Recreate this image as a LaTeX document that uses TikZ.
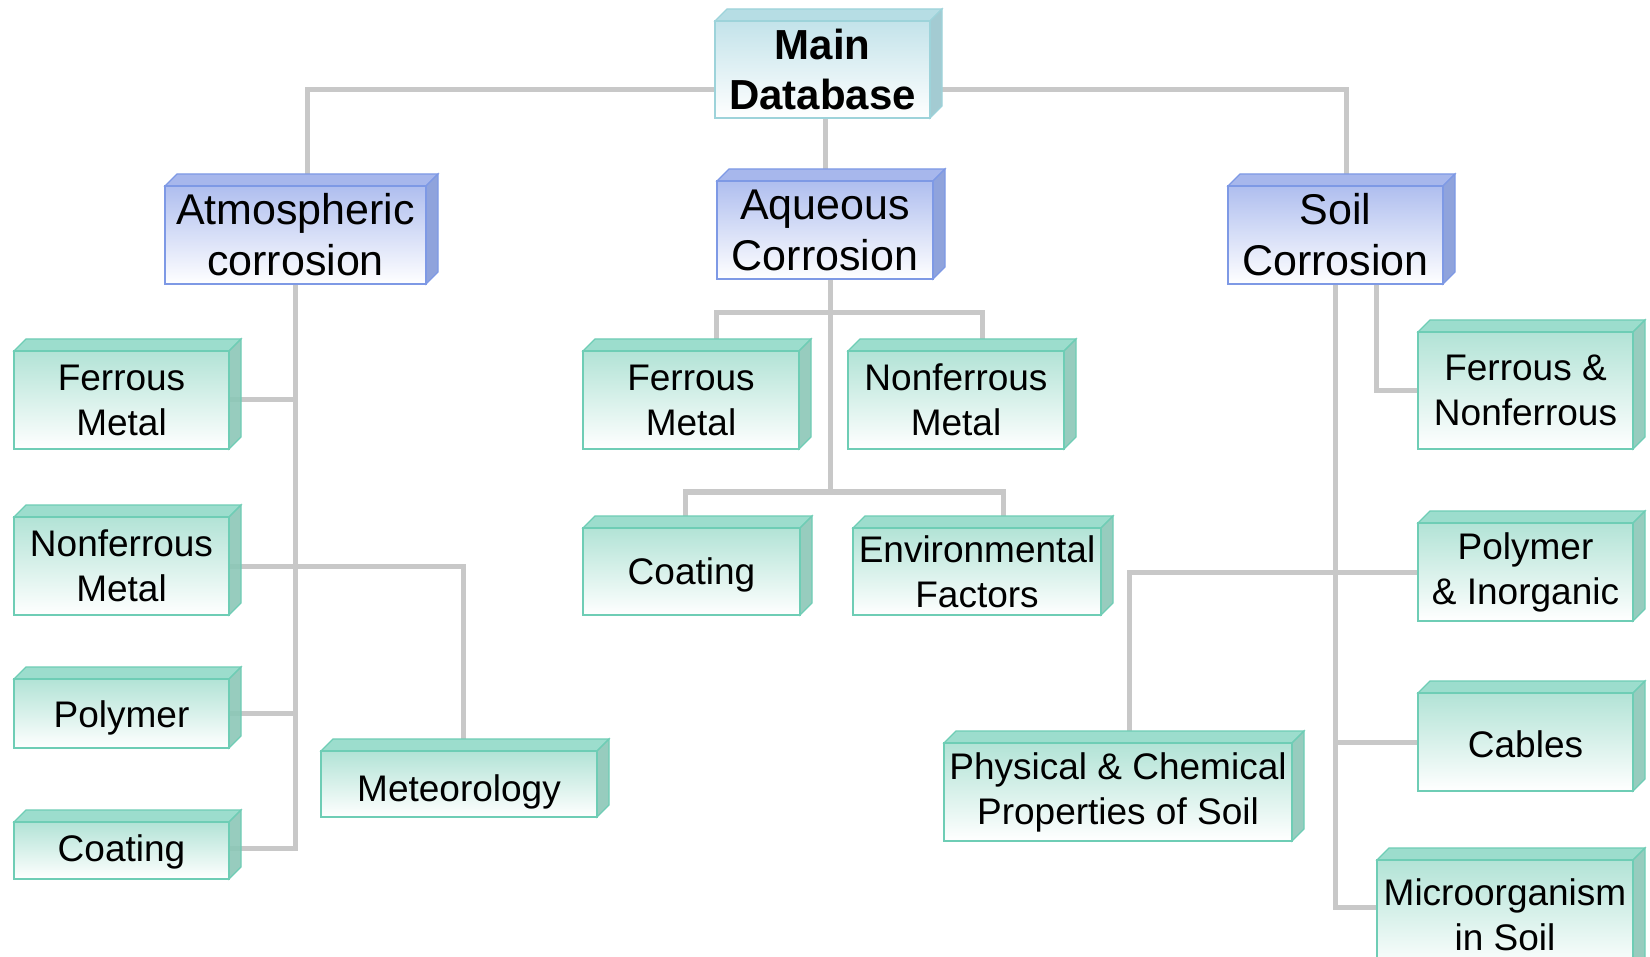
\documentclass[tikz,border=0pt]{standalone}
\usepackage{fontspec}
\setmainfont{Liberation Sans}
\pgfdeclarelayer{background}
\pgfsetlayers{background,main}

% colour schemes of the three kinds of box
\definecolor{cyanFront}{HTML}{C3E3EA}
\definecolor{cyanEdge}{HTML}{9DD3DA}
\definecolor{cyanTop}{HTML}{B6DDE4}
\definecolor{cyanSide}{HTML}{A3CBD2}
\definecolor{blueFront}{HTML}{AFBEEF}
\definecolor{blueEdge}{HTML}{7E99E5}
\definecolor{blueTop}{HTML}{A7B7EC}
\definecolor{blueSide}{HTML}{8FA3DC}
\definecolor{greenFront}{HTML}{B2E3D6}
\definecolor{greenEdge}{HTML}{6ECDB5}
\definecolor{greenTop}{HTML}{9CDDCD}
\definecolor{greenSide}{HTML}{8CC7B7}
\definecolor{connGray}{HTML}{C8C8C8}

\tikzset{
  cuboid/.style={inner sep=0pt, align=center, line width=1.5pt},
  cyan box/.style={cuboid, draw=cyanEdge, top color=cyanFront, bottom color=white,
    font=\fontsize{42}{50}\selectfont\bfseries},
  cyan top/.style={fill=cyanTop, draw=cyanEdge, line width=1.2pt},
  cyan side/.style={fill=cyanSide, draw=cyanEdge, line width=1.2pt},
  blue box/.style={cuboid, draw=blueEdge, top color=blueFront, bottom color=white,
    font=\fontsize{43}{51}\selectfont},
  blue top/.style={fill=blueTop, draw=blueEdge, line width=1.2pt},
  blue side/.style={fill=blueSide, draw=blueEdge, line width=1.2pt},
  green box/.style={cuboid, draw=greenEdge, top color=greenFront, bottom color=white,
    font=\fontsize{37}{45}\selectfont},
  green top/.style={fill=greenTop, draw=greenEdge, line width=1.2pt},
  green side/.style={fill=greenSide, draw=greenEdge, line width=1.2pt, fill opacity=0.9},
  conn/.style={draw=connGray, line width=5pt},
}

% #1 name, #2 scheme, #3 left, #4 top, #5 right, #6 bottom, #7 text
\newcommand\cuboidbox[7]{%
  \filldraw[#2 top] (#3,#4) -- ++(12,-12) -- (#5+12,#4-12) -- (#5,#4) -- cycle;
  \filldraw[#2 side] (#5,#4) -- ++(12,-12) -- (#5+12,#6-12) -- (#5,#6) -- cycle;
  \node[#2 box, minimum width={#5-#3}, minimum height={#6-#4}]
    (#1) at ({(#3+#5)/2},{(#4+#6)/2}) {#7};
}
% one-line label whose baseline sits #1 below the box centre
\newcommand\lowline[2]{\raisebox{-#1}[0pt][0pt]{#2}}

\begin{document}
\begin{tikzpicture}[x=1pt, y=-1pt]
\useasboundingbox (0,0) rectangle (1650,957);
\clip (0,0) rectangle (1650,957);

% root
\cuboidbox{main}{cyan}{715}{21}{930}{118}{Main\\Database}

% three corrosion categories
\cuboidbox{atm}{blue}{165}{186}{426}{284}{Atmospheric\\corrosion}
\cuboidbox{aq}{blue}{717}{181}{933}{279}{Aqueous\\Corrosion}
\cuboidbox{soil}{blue}{1228}{186}{1443}{284}{Soil\\Corrosion}

% atmospheric branch
\cuboidbox{fm1}{green}{14}{351}{229}{449}{Ferrous\\Metal}
\cuboidbox{nm1}{green}{14}{517}{229}{615}{Nonferrous\\Metal}
\cuboidbox{poly}{green}{14}{679}{229}{748}{\lowline{14pt}{Polymer}}
\cuboidbox{coat1}{green}{14}{822}{229}{879}{\lowline{11pt}{Coating}}
\cuboidbox{met}{green}{321}{751}{597}{817}{\lowline{17pt}{Meteorology}}

% aqueous branch
\cuboidbox{fm2}{green}{583}{351}{799}{449}{Ferrous\\Metal}
\cuboidbox{nm2}{green}{848}{351}{1064}{449}{Nonferrous\\Metal}
\cuboidbox{coat2}{green}{583}{528}{800}{615}{\lowline{13pt}{Coating}}
\cuboidbox{env}{green}{853}{528}{1101}{615}{Environmental\\Factors}

% soil branch
\cuboidbox{fn}{green}{1418}{332}{1633}{449}{Ferrous \&\\Nonferrous}
\cuboidbox{pi}{green}{1418}{523}{1633}{621}{Polymer\\\& Inorganic}
\cuboidbox{cab}{green}{1418}{693}{1633}{791}{\lowline{15pt}{Cables}}
\cuboidbox{phys}{green}{944}{743}{1292}{841}{Physical \& Chemical\\Properties of Soil}
\cuboidbox{micro}{green}{1377}{860}{1633}{970}{Microorganism\\in Soil}

% junction points of the aqueous tree
\coordinate (aqA) at (830,313);
\coordinate (aqB) at (830,492);

\begin{pgfonlayer}{background}
  \fill[white] (0,0) rectangle (1650,957);
  % root to categories
  \draw[conn] ([xshift=12pt]atm.north) |- ([yshift=-20.5pt]main.west);
  \draw[conn] ([xshift=11pt]soil.north) |- ([yshift=-20.5pt]main.east);
  \draw[conn] (aq.north) -- (aq.north |- main.south);
  % atmospheric tree
  \draw[conn] (atm.south) |- ([yshift=2pt]coat1.east);
  \draw[conn] (atm.south |- fm1.east) -- (fm1.east);
  \draw[conn] (atm.south |- poly.east) -- (poly.east);
  \draw[conn] (nm1.east) -| ([xshift=4pt]met.north);
  % aqueous tree
  \draw[conn] (aq.south -| aqB) -- (aqB);
  \draw[conn] ([xshift=25pt]fm2.north) |- (aqA) -| ([xshift=26pt]nm2.north);
  \draw[conn] ([xshift=-6.5pt]coat2.north) |- (aqB) -| ([xshift=26pt]env.north);
  % soil tree
  \draw[conn] (soil.south) |- ([yshift=8pt]micro.west);
  \draw[conn] ([xshift=40.5pt]soil.south) |- (fn.west);
  \draw[conn] ([xshift=11pt]phys.north) |- (pi.west);
  \draw[conn] (soil.south |- cab.west) -- (cab.west);
\end{pgfonlayer}
\end{tikzpicture}
\end{document}
